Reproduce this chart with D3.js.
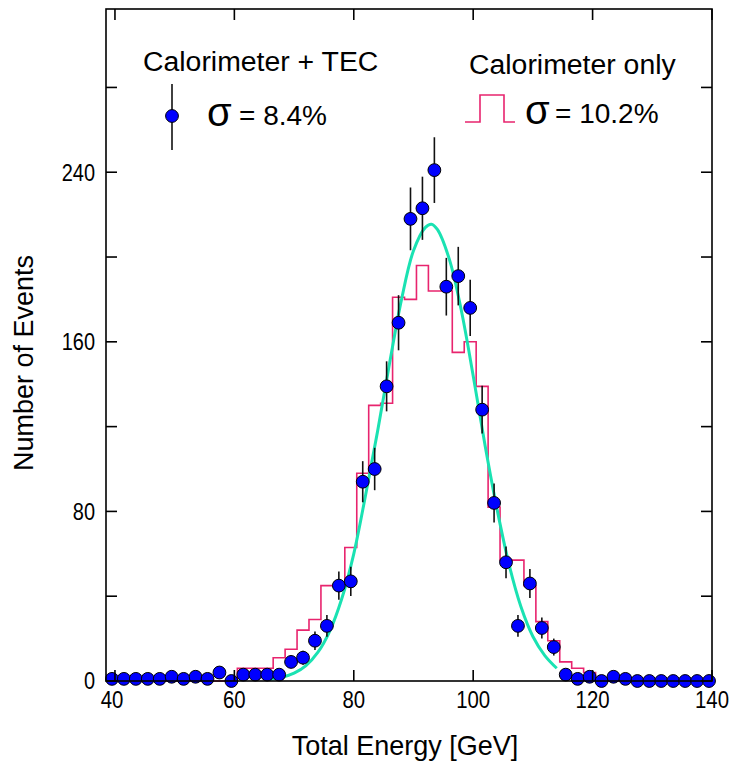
<!DOCTYPE html>
<html>
<head>
<meta charset="utf-8">
<script src="https://cdn.jsdelivr.net/npm/d3@7/dist/d3.min.js"></script>
<style>
  body { margin: 0; background: #fff; }
  text { font-family: "Liberation Sans", Arial, Helvetica, sans-serif; fill: #000; }
</style>
</head>
<body>
<div id="chart"></div>
<script>
"use strict";
// bin centres in GeV (2 GeV bins)
const energies = [39.5, 41.5, 43.5, 45.5, 47.5, 49.5, 51.5, 53.5, 55.5, 57.5,
  59.5, 61.5, 63.5, 65.5, 67.5, 69.5, 71.5, 73.5, 75.5, 77.5,
  79.5, 81.5, 83.5, 85.5, 87.5, 89.5, 91.5, 93.5, 95.5, 97.5,
  99.5, 101.5, 103.5, 105.5, 107.5, 109.5, 111.5, 113.5, 115.5, 117.5,
  119.5, 121.5, 123.5, 125.5, 127.5, 129.5, 131.5, 133.5, 135.5, 137.5, 139.5];
// calorimeter + TEC (points)
const tecCounts = [1, 1, 1, 1, 1, 2, 1, 2, 1, 4,
  0, 3, 3, 3, 3, 9, 11, 19, 26, 45,
  47, 94, 100, 139, 169, 218, 223, 241, 186, 191,
  176, 128, 84, 56, 26, 46, 25, 16, 3, 1,
  2, 0, 2, 1, 0, 0, 0, 0, 0, 0, 0];
const tecErrors = [1, 1, 1, 1, 1, 1.4, 1, 1.4, 1, 2,
  0, 1.7, 1.7, 1.7, 1.7, 3, 3.3, 4.4, 5.1, 6.7,
  6.9, 9.7, 10, 11.8, 13, 14.8, 14.9, 15.5, 13.6, 13.8,
  13.3, 11.3, 9.2, 7.5, 5.1, 6.8, 5, 4, 1.7, 1,
  1.4, 0, 1.4, 1, 0, 0, 0, 0, 0, 0, 0];
// calorimeter only (histogram, same bins)
const caloCounts = [0, 0, 0, 0, 0, 0, 0, 0, 0, 0,
  0, 6, 6, 6, 11, 15, 24, 29, 45, 45,
  63, 98, 130, 131, 181, 180, 196, 184, 184, 155,
  160, 139, 82, 57, 57, 45, 28, 19, 9, 6,
  4, 0, 0, 0, 0, 0, 0, 0, 0, 0, 0];
// gaussian fit, points
const fitX = [66, 68, 70, 72, 74, 76, 78, 80, 82, 84, 86, 88, 90, 92, 93, 94, 96, 98, 100, 102, 104, 106, 108, 110, 112, 114];
const fitY = [0.8, 1.8, 3.7, 7.3, 13.6, 23.7, 38.9, 60, 88, 118, 150, 180, 203, 214, 215.5, 213, 199, 175, 144, 111, 81, 55, 35, 21, 12, 6];

const xTicks = [40, 60, 80, 100, 120, 140];
const yTicks = [0, 40, 80, 120, 160, 200, 240, 280];
const yLabels = [0, 80, 160, 240];

const W = 731, H = 761;
const frame = { left: 106, right: 712, top: 9, bottom: 681 };
const binW = 2;

const svg = d3.select('#chart').append('svg')
  .attr('width', W)
  .attr('height', H);

const x = d3.scaleLinear().domain([38.5, 140]).range([frame.left, frame.right]);
const y = d3.scaleLinear().domain([0, 317]).range([frame.bottom, frame.top]);

const PINK = '#e8246e', TEAL = '#1ae2b2', BLUE = '#0000ff';

// histogram (calorimeter only)
const steps = energies.map((e, i) => ({ x: e - binW / 2, v: caloCounts[i] }));
steps.push({ x: energies[energies.length - 1] + binW / 2, v: 0 });
svg.append('path')
  .datum(steps)
  .attr('fill', 'none')
  .attr('stroke', PINK)
  .attr('stroke-width', 1.6)
  .attr('d', d3.line().x(d => x(d.x)).y(d => y(d.v)).curve(d3.curveStepAfter));

// fit curve
svg.append('path')
  .datum(fitX.map((v, i) => [v, fitY[i]]))
  .attr('fill', 'none')
  .attr('stroke', TEAL)
  .attr('stroke-width', 3)
  .attr('d', d3.line().x(d => x(d[0])).y(d => y(d[1])).curve(d3.curveCatmullRom));

// points with error bars
const pts = energies.map((e, i) => ({ e: e, n: tecCounts[i], err: tecErrors[i] }));
svg.append('g')
  .selectAll('line')
  .data(pts.filter(d => d.err > 0))
  .enter().append('line')
  .attr('x1', d => x(d.e))
  .attr('x2', d => x(d.e))
  .attr('y1', d => y(d.n - d.err))
  .attr('y2', d => y(d.n + d.err))
  .style('stroke', '#111')
  .style('stroke-width', '1.6px');
svg.append('g')
  .selectAll('circle')
  .data(pts)
  .enter().append('circle')
  .attr('cx', d => x(d.e))
  .attr('cy', d => y(d.n))
  .attr('r', 6.4)
  .style('fill', BLUE)
  .style('stroke', '#000')
  .style('stroke-width', '1px');

// frame and ticks
const axes = svg.append('g').attr('stroke', '#000').attr('stroke-width', 1.6);
axes.append('rect')
  .attr('x', frame.left).attr('y', frame.top)
  .attr('width', frame.right - frame.left)
  .attr('height', frame.bottom - frame.top)
  .attr('fill', 'none');
const TL = 11;
xTicks.forEach(t => {
  axes.append('line').attr('x1', x(t)).attr('x2', x(t)).attr('y1', frame.bottom).attr('y2', frame.bottom - TL);
  axes.append('line').attr('x1', x(t)).attr('x2', x(t)).attr('y1', frame.top).attr('y2', frame.top + TL);
});
yTicks.forEach(t => {
  axes.append('line').attr('x1', frame.left).attr('x2', frame.left + TL).attr('y1', y(t)).attr('y2', y(t));
  axes.append('line').attr('x1', frame.right).attr('x2', frame.right - TL).attr('y1', y(t)).attr('y2', y(t));
});

// tick labels (the original font is a bit taller than Arial)
svg.append('g').selectAll('text')
  .data(xTicks)
  .enter().append('text')
  .attr('transform', d => 'translate(' + (d === 40 ? x(d) - 3 : x(d)) + ',708) scale(0.97,1.1)')
  .attr('text-anchor', 'middle')
  .style('font-size', '21px')
  .text(d => d);
svg.append('g').selectAll('text')
  .data(yLabels)
  .enter().append('text')
  .attr('transform', d => 'translate(95,' + y(d) + ') scale(0.95,1.1)')
  .attr('dy', '0.36em')
  .attr('text-anchor', 'end')
  .style('font-size', '21px')
  .text(d => d);

// axis titles
svg.append('text')
  .attr('transform', 'translate(405,755) scale(1,1.05)')
  .attr('text-anchor', 'middle')
  .style('font-size', '27px')
  .text('Total Energy [GeV]');
svg.append('text')
  .attr('transform', 'translate(33,363) rotate(-90)')
  .attr('text-anchor', 'middle')
  .style('font-size', '27px')
  .text('Number of Events');

// legend
svg.append('text').attr('x', 143).attr('y', 71).style('font-size', '28.4px').text('Calorimeter + TEC');
svg.append('line')
  .attr('x1', 172).attr('x2', 172).attr('y1', 84).attr('y2', 150)
  .style('stroke', '#111').style('stroke-width', '1.6px');
svg.append('circle')
  .attr('cx', 172).attr('cy', 116).attr('r', 6.4)
  .style('fill', BLUE).style('stroke', '#000');
svg.append('text').attr('x', 207).attr('y', 126).style('font-size', '40px').text('σ');
svg.append('text').attr('x', 239).attr('y', 125).style('font-size', '28px').text('= 8.4%');

svg.append('text').attr('x', 469).attr('y', 74).style('font-size', '28.4px').text('Calorimeter only');
svg.append('path')
  .attr('d', 'M465,122H480V95H504V122H515')
  .attr('fill', 'none')
  .attr('stroke', PINK)
  .attr('stroke-width', 1.6);
svg.append('text').attr('x', 525).attr('y', 124).style('font-size', '40px').text('σ');
svg.append('text').attr('x', 555).attr('y', 123).style('font-size', '28px').text('= 10.2%');
</script>
</body>
</html>
